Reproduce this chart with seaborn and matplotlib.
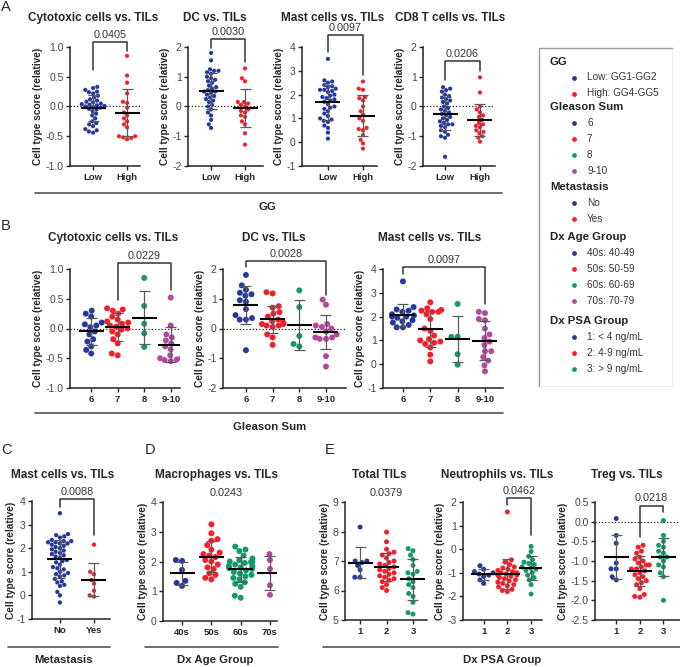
import matplotlib
matplotlib.use("Agg")
import matplotlib.pyplot as plt
from matplotlib.lines import Line2D
from matplotlib.patches import Rectangle
import seaborn as sns
import pandas as pd
import numpy as np

W, H = 680, 667

BLUE = "#26399b"
RED = "#f2202b"
GREEN = "#139a68"
MAGENTA = "#b4489f"

# ---- A: GG (Low vs High) ----
gg_labels = ["Low", "High"]
a_cyto_low = [0.33, 0.31, 0.28, 0.25, 0.24, 0.22, 0.18, 0.15, 0.12, 0.10, 0.08, 0.07,
              0.05, 0.04, 0.03, 0.02, 0.01, 0.0, -0.01, -0.02, -0.04, -0.05, -0.08, -0.12,
              -0.15, -0.2, -0.25, -0.28, -0.3, -0.33, -0.38, -0.4, -0.42, -0.44]
a_cyto_high = [0.85, 0.52, 0.40, 0.22, 0.08, 0.06, -0.02, -0.1, -0.15, -0.2, -0.25, -0.3,
               -0.35, -0.5, -0.5, -0.52, -0.53, -0.55]
a_dc_low = [1.8, 1.55, 1.25, 1.2, 1.2, 1.15, 1.1, 1.0, 0.95, 0.9, 0.85, 0.8, 0.7, 0.65,
            0.6, 0.55, 0.5, 0.5, 0.45, 0.4, 0.35, 0.3, 0.25, 0.2, 0.15, 0.05, 0.0, -0.1,
            -0.2, -0.3, -0.45, -0.6, -0.72]
a_dc_high = [1.28, 0.95, 0.85, 0.15, 0.15, 0.1, 0.05, 0.0, -0.1, -0.15, -0.2, -0.3, -0.35,
             -0.5, -0.6, -0.9, -1.28]
a_mast_low = [3.5, 2.6, 2.55, 2.5, 2.4, 2.35, 2.3, 2.25, 2.2, 2.2, 2.15, 2.1, 2.0, 1.95,
              1.9, 1.85, 1.8, 1.75, 1.7, 1.6, 1.5, 1.45, 1.4, 1.3, 1.2, 1.1, 1.0, 0.95,
              0.9, 0.85, 0.7, 0.6, 0.4, 0.15]
a_mast_high = [2.55, 2.25, 2.2, 1.9, 1.85, 1.75, 1.5, 1.3, 1.15, 1.0, 0.9, 0.6, 0.55, 0.5,
               0.3, 0.1, -0.05, -0.27]
a_cd8_low = [0.65, 0.6, 0.55, 0.5, 0.4, 0.35, 0.3, 0.25, 0.2, 0.15, 0.1, 0.0, -0.05, -0.1,
             -0.15, -0.2, -0.25, -0.3, -0.35, -0.4, -0.45, -0.5, -0.55, -0.6, -0.6, -0.65,
             -0.7, -0.8, -0.85, -0.95, -1.0, -1.05, -1.69]
a_cd8_high = [0.98, 0.47, 0.0, -0.1, -0.2, -0.3, -0.35, -0.45, -0.55, -0.6, -0.65, -0.7,
              -0.8, -0.85, -0.9, -1.0, -1.05, -1.18]

# ---- B: Gleason sum ----
gs_labels = ["6", "7", "8", "9-10"]
b_cyto = [
    [0.3, 0.25, 0.2, 0.1, 0.07, 0.05, 0.02, -0.05, -0.1, -0.18, -0.22, -0.3, -0.36, -0.42],
    [0.34, 0.32, 0.3, 0.25, 0.2, 0.15, 0.12, 0.1, 0.08, 0.05, 0.03, 0.0, -0.02, -0.05, -0.1,
     -0.18, -0.25, -0.42, -0.45],
    [0.85, 0.38, 0.08, -0.08, -0.31],
    [0.52, 0.05, -0.1, -0.15, -0.2, -0.25, -0.3, -0.35, -0.45, -0.5, -0.5, -0.52, -0.53, -0.55],
]
b_dc = [
    [1.8, 1.45, 1.3, 1.2, 1.15, 1.1, 0.95, 0.9, 0.65, 0.45, 0.35, 0.3, 0.3, -0.73],
    [1.22, 1.18, 0.75, 0.7, 0.55, 0.5, 0.4, 0.3, 0.25, 0.2, 0.15, 0.15, 0.1, 0.1, 0.05,
     -0.2, -0.3, -0.55],
    [1.28, 0.72, -0.25, -0.52, -0.6],
    [0.97, 0.8, 0.15, 0.1, 0.05, 0.0, -0.1, -0.2, -0.3, -0.3, -0.35, -0.35, -0.93, -1.28],
]
b_mast = [
    [3.48, 2.4, 2.3, 2.25, 2.2, 2.1, 2.05, 2.0, 2.0, 1.95, 1.85, 1.8, 1.75, 1.65, 1.55, 1.55],
    [2.6, 2.35, 2.28, 2.25, 2.2, 2.2, 2.1, 1.9, 1.5, 1.4, 1.2, 1.05, 1.0, 0.95, 0.9, 0.85,
     0.7, 0.4, 0.12],
    [2.53, 1.15, 1.15, 0.42, -0.02],
    [2.2, 2.15, 1.9, 1.85, 1.5, 1.25, 1.1, 0.95, 0.8, 0.55, 0.55, 0.3, 0.15, -0.05, -0.3],
]

# ---- C: Metastasis ----
met_labels = ["No", "Yes"]
c_mast_no = [3.48, 2.6, 2.55, 2.5, 2.45, 2.35, 2.3, 2.3, 2.25, 2.25, 2.2, 2.2, 2.15, 2.1,
             2.05, 2.0, 1.95, 1.9, 1.85, 1.8, 1.75, 1.7, 1.65, 1.6, 1.5, 1.45, 1.4, 1.3,
             1.2, 1.15, 1.1, 1.0, 0.95, 0.9, 0.85, 0.8, 0.7, 0.6, 0.55, 0.45, 0.4, 0.15,
             0.0, -0.3]
c_mast_yes = [2.15, 1.0, 0.9, 0.65, 0.5, 0.2, 0.0, -0.05]

# ---- D: Dx age group ----
age_labels = ["40s", "50s", "60s", "70s"]
d_macro = [
    [2.05, 2.02, 1.72, 1.35, 1.28, 1.18],
    [3.25, 2.95, 2.75, 2.7, 2.55, 2.4, 2.3, 2.25, 2.2, 2.15, 2.05, 2.0, 1.9, 1.8, 1.75,
     1.6, 1.55, 1.45, 1.4],
    [2.5, 2.4, 2.35, 2.2, 2.1, 2.05, 2.0, 2.0, 1.98, 1.95, 1.9, 1.85, 1.85, 1.8, 1.78,
     1.75, 1.7, 1.65, 1.6, 1.55, 1.5, 1.45, 1.4, 1.3, 1.25, 1.15, 0.85, 0.78],
    [2.25, 2.05, 1.75, 1.2, 0.88],
]

# ---- E: Dx PSA group ----
psa_labels = ["1", "2", "3"]
e_total = [
    [8.15, 7.0, 7.0, 6.95, 6.85, 6.7, 6.45, 6.45],
    [7.98, 7.65, 7.4, 7.3, 7.25, 7.2, 7.1, 7.0, 6.95, 6.9, 6.85, 6.8, 6.75, 6.7, 6.65,
     6.6, 6.55, 6.5, 6.45, 6.4, 6.35, 6.3, 6.2, 6.1, 6.0],
    [7.42, 7.35, 7.2, 7.05, 6.85, 6.65, 6.6, 6.55, 6.4, 6.3, 6.2, 6.1, 5.9, 5.8, 5.6,
     5.25, 5.2],
]
e_neut = [
    [-0.7, -0.85, -0.95, -1.0, -1.05, -1.1, -1.15, -1.3, -1.45],
    [1.58, -0.45, -0.55, -0.65, -0.75, -0.8, -0.85, -0.9, -0.95, -1.0, -1.0, -1.05, -1.1,
     -1.1, -1.15, -1.2, -1.25, -1.3, -1.35, -1.4, -1.45, -1.5, -1.55, -1.6, -1.7, -1.75, -1.8],
    [0.12, -0.1, -0.3, -0.45, -0.55, -0.6, -0.65, -0.75, -0.8, -0.85, -0.9, -1.0, -1.1,
     -1.2, -1.3, -1.5, -1.9],
]
e_treg = [
    [0.08, -0.35, -0.55, -1.05, -1.2, -1.2, -1.4, -1.48],
    [-0.6, -0.65, -0.75, -0.8, -0.9, -0.95, -1.0, -1.05, -1.1, -1.1, -1.15, -1.2, -1.2,
     -1.25, -1.3, -1.35, -1.4, -1.45, -1.5, -1.55, -1.6, -1.7, -1.85, -1.9, -1.92],
    [0.03, -0.35, -0.5, -0.6, -0.65, -0.75, -0.8, -0.9, -0.9, -1.0, -1.1, -1.15, -1.3,
     -1.4, -2.0],
]

# ---- legend ----
legend_sections = ["GG", "Gleason Sum", "Metastasis", "Dx Age Group", "Dx PSA Group"]
legend_items = [
    ["Low: GG1-GG2", "High: GG4-GG5"],
    ["6", "7", "8", "9-10"],
    ["No", "Yes"],
    ["40s: 40-49", "50s: 50-59", "60s: 60-69", "70s: 70-79"],
    ["1: < 4 ng/mL", "2: 4-9 ng/mL", "3: > 9 ng/mL"],
]
legend_colors = [BLUE, RED, GREEN, MAGENTA]

sns.set_style("ticks")
plt.rcParams["font.family"] = ["Liberation Sans", "DejaVu Sans"]
plt.rcParams["axes.unicode_minus"] = False

fig = plt.figure(figsize=(W / 100, H / 100), dpi=100)


def add_ax(x0, y0, x1, y1):
    return fig.add_axes([x0 / W, 1 - y1 / H, (x1 - x0) / W, (y1 - y0) / H])


def ftext(x, y, s, **kw):
    fig.text(x / W, 1 - y / H, s, **kw)


def dot_panel(box, groups, labels, yticks, fmt, xlim, dot=3.0, zero=False, ypad=2):
    ax = add_ax(*box)
    df = pd.DataFrame({"group": np.repeat(labels, [len(g) for g in groups]),
                       "score": np.concatenate(groups)})
    colors = legend_colors[:len(labels)]
    sns.swarmplot(data=df, x="group", y="score", hue="group", order=labels,
                  hue_order=labels, palette=colors, size=dot, ax=ax, legend=False,
                  zorder=2)
    upx = (xlim[1] - xlim[0]) / (box[2] - box[0])
    stats = df.groupby("group", sort=False)["score"].agg(["mean", "std"])
    for i, lab in enumerate(labels):
        m, s = stats.loc[lab, "mean"], stats.loc[lab, "std"]
        ax.vlines(i, m - s, m + s, color="#5a5a5a", lw=0.9, zorder=3)
        ax.hlines([m - s, m + s], i - 5.5 * upx, i + 5.5 * upx, color="#5a5a5a", lw=0.9, zorder=3)
        ax.hlines(m, i - 12.5 * upx, i + 12.5 * upx, color="black", lw=1.5, zorder=4)
    if zero:
        ax.axhline(0, color="#222", lw=0.9, ls=(0, (1, 1.6)), zorder=1)
    ax.set_xlim(*xlim)
    ax.set_ylim(yticks[0], yticks[-1])
    ax.set_yticks(yticks)
    ax.set_yticklabels([fmt % t for t in yticks])
    ax.set_xlabel("")
    ax.set_ylabel("Cell type score (relative)", fontsize=7.3, fontweight="bold", labelpad=ypad)
    sns.despine(ax=ax)
    for sp in ("left", "bottom"):
        ax.spines[sp].set_linewidth(1.1)
        ax.spines[sp].set_color("#222")
    ax.tick_params(axis="y", labelsize=7.5, labelcolor="#444", length=3, width=1, pad=1.5)
    ax.tick_params(axis="x", labelsize=6.8, length=3, width=1, pad=2)
    for t in ax.get_xticklabels():
        t.set_fontweight("bold")
    return ax


def bracket(ax, i, j, y, yi, yj, text):
    ax.plot([i, i, j, j], [yi, y, y, yj], color="#333", lw=1.1, clip_on=False, zorder=5)
    ax.annotate(text, xy=((i + j) / 2, y), xytext=(0, 1.5), textcoords="offset points",
                ha="center", va="bottom", fontsize=7.8, color="#333", annotation_clip=False)


def pval(ax, x, y, text):
    ax.text(x, y, text, ha="center", va="bottom", fontsize=7.8, color="#333", clip_on=False)


def group_line(x0, x1, y, label, lx, ly):
    fig.add_artist(Line2D([x0 / W, x1 / W], [1 - y / H] * 2, color="#555", lw=1.2))
    ftext(lx, ly, label, ha="center", va="center", fontsize=8.2, fontweight="bold")


title_kw = dict(ha="center", va="center", fontsize=8.5, fontweight="bold")
letter_kw = dict(ha="left", va="center", fontsize=10.5)

# ---- Panel A ----
ftext(1, 7, "A", **letter_kw)
ax = dot_panel((70, 47, 140, 166), [a_cyto_low, a_cyto_high], gg_labels,
               [-1.0, -0.5, 0.0, 0.5, 1.0], "%.1f", (-0.68, 1.38), zero=True)
bracket(ax, 0, 1, 1.08, 0.62, 0.93, "0.0405")
ftext(93, 18, "Cytotoxic cells vs. TILs", **title_kw)

ax = dot_panel((188, 47, 263, 166), [a_dc_low, a_dc_high], gg_labels,
               [-2, -1, 0, 1, 2], "%d", (-0.68, 1.53), zero=True)
bracket(ax, 0, 1, 2.27, 1.97, 1.51, "0.0030")
ftext(215, 18, "DC vs. TILs", **title_kw)

ax = dot_panel((302, 47, 377, 166), [a_mast_low, a_mast_high], gg_labels,
               [-1, 0, 1, 2, 3, 4], "%d", (-0.74, 1.4))
bracket(ax, 0, 1, 4.52, 3.8, 2.83, "0.0097")
ftext(333, 18, "Mast cells vs. TILs", **title_kw)

ax = dot_panel((423, 47, 495, 166), [a_cd8_low, a_cd8_high], gg_labels,
               [-2, -1, 0, 1, 2], "%d", (-0.63, 1.43), zero=True)
bracket(ax, 0, 1, 1.52, 0.9, 1.18, "0.0206")
ftext(450, 18, "CD8 T cells vs. TILs", **title_kw)

group_line(35, 502, 193, "GG", 267, 207)

# ---- Panel B ----
ftext(1, 226, "B", **letter_kw)
ax = dot_panel((70, 269, 180, 388), b_cyto, gs_labels,
               [-1.0, -0.5, 0.0, 0.5, 1.0], "%.1f", (-0.8, 3.35), dot=4.3, zero=True)
bracket(ax, 1, 3, 1.1, 0.48, 0.65, "0.0229")
ftext(113, 238, "Cytotoxic cells vs. TILs", **title_kw)

ax = dot_panel((223, 269, 346, 388), b_dc, gs_labels,
               [-2, -1, 0, 1, 2], "%d", (-0.86, 3.75), dot=4.3, zero=True)
bracket(ax, 0, 3, 2.28, 2.08, 1.13, "0.0028")
ftext(274, 238, "DC vs. TILs", **title_kw)

ax = dot_panel((383, 269, 503, 388), b_mast, gs_labels,
               [-1, 0, 1, 2, 3, 4], "%d", (-0.73, 3.66), dot=4.3)
bracket(ax, 0, 3, 4.1, 3.78, 2.52, "0.0097")
ftext(430, 238, "Mast cells vs. TILs", **title_kw)

group_line(35, 503, 413, "Gleason Sum", 270, 427)

# ---- Panel C ----
ftext(1, 450, "C", **letter_kw)
ax = dot_panel((32, 501, 110, 619), [c_mast_no, c_mast_yes], met_labels,
               [-1, 0, 1, 2, 3, 4], "%d", (-0.82, 1.47), dot=3.1, ypad=0.5)
bracket(ax, 0, 1, 4.1, 3.75, 2.55, "0.0088")
ftext(63, 475, "Mast cells vs. TILs", **title_kw)
group_line(8, 110, 647, "Metastasis", 64, 660)

# ---- Panel D ----
ftext(145, 450, "D", **letter_kw)
ax = dot_panel((163, 502, 277, 621), d_macro, age_labels,
               [0, 1, 2, 3, 4], "%d", (-0.65, 3.24), dot=4.3)
pval(ax, 1.5, 4.15, "0.0243")
ftext(217, 475, "Macrophages vs. TILs", **title_kw)
group_line(145, 278, 647, "Dx Age Group", 215, 660)

# ---- Panel E ----
ftext(325, 450, "E", **letter_kw)
ax = dot_panel((345, 502, 427, 620), e_total, psa_labels,
               [5, 6, 7, 8, 9], "%d", (-0.57, 2.53), dot=3.6)
pval(ax, 1.0, 9.15, "0.0379")
ftext(379, 475, "Total TILs", **title_kw)

ax = dot_panel((463, 502, 542, 620), e_neut, psa_labels,
               [-3, -2, -1, 0, 1, 2], "%d", (-0.87, 2.46), dot=3.6)
bracket(ax, 1, 2, 2.18, 1.86, 0.6, "0.0462")
ftext(497, 475, "Neutrophils vs. TILs", **title_kw)

ax = dot_panel((595, 502, 680, 620), e_treg, psa_labels,
               [-2.5, -2.0, -1.5, -1.0, -0.5, 0.0, 0.5], "%.1f", (-0.9, 2.7), dot=3.6,
               zero=True)
bracket(ax, 1, 2, 0.41, -0.39, 0.25, "0.0218")
ftext(627, 475, "Treg vs. TILs", **title_kw)

group_line(323, 680, 647, "Dx PSA Group", 502, 660)

# ---- legend box ----
lax = add_ax(538, 47, 673, 387)
lax.set_xlim(538, 673)
lax.set_ylim(387, 47)
lax.axis("off")
lax.add_patch(Rectangle((538.5, 47.5), 134, 339, fill=False, ec="#999", lw=1.0))
section_y = [62, 107, 187, 237, 321]
for sec, items, y0 in zip(legend_sections, legend_items, section_y):
    lax.text(550, y0, sec, ha="left", va="center", fontsize=8.2, fontweight="bold",
             color="#222")
    for k, item in enumerate(items):
        yy = y0 + 15.5 + 16 * k
        lax.scatter([574], [yy], s=12, color=legend_colors[k], linewidths=0)
        lax.text(587, yy, item, ha="left", va="center", fontsize=7.2, color="#333")

fig.savefig("out.png", dpi=100)
